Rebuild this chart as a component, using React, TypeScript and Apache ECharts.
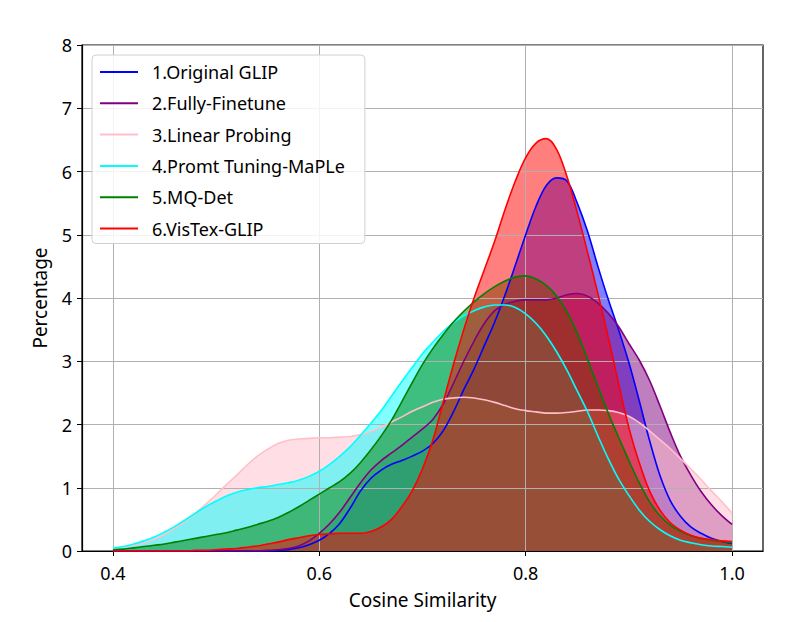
import React, { useEffect, useRef } from "react";
import * as echarts from "echarts";

// Cosine similarity sample positions (0.40 .. 1.00)
const xValues = [
  0.4, 0.41, 0.42, 0.43, 0.44, 0.45, 0.46, 0.47, 0.48, 0.49,
  0.5, 0.51, 0.52, 0.53, 0.54, 0.55, 0.56, 0.57, 0.58, 0.59,
  0.6, 0.61, 0.62, 0.63, 0.64, 0.65, 0.66, 0.67, 0.68, 0.69,
  0.7, 0.71, 0.72, 0.73, 0.74, 0.75, 0.76, 0.77, 0.78, 0.79,
  0.8, 0.81, 0.82, 0.83, 0.84, 0.85, 0.86, 0.87, 0.88, 0.89,
  0.9, 0.91, 0.92, 0.93, 0.94, 0.95, 0.96, 0.97, 0.98, 0.99,
  1.0,
];

const originalGlip = [
  0, 0, 0, 0, 0, 0, 0, 0, 0, 0,
  0, 0, 0, 0, 0, 0, 0.01, 0.02, 0.05, 0.1,
  0.17, 0.28, 0.44, 0.68, 0.95, 1.15, 1.28, 1.37, 1.43, 1.5,
  1.58, 1.7, 1.9, 2.2, 2.55, 2.88, 3.25, 3.62, 4.05, 4.52,
  5.0, 5.45, 5.78, 5.9, 5.85, 5.5, 5.05, 4.5, 3.98, 3.5,
  2.98, 2.38, 1.75, 1.2, 0.8, 0.55, 0.38, 0.28, 0.2, 0.15,
  0.12,
];
const fullyFinetune = [
  0, 0, 0, 0, 0, 0, 0, 0, 0, 0,
  0, 0, 0, 0, 0, 0.01, 0.02, 0.04, 0.08, 0.16,
  0.28, 0.43, 0.62, 0.85, 1.08, 1.28, 1.43, 1.55, 1.67, 1.8,
  1.93, 2.08, 2.32, 2.65, 3.0, 3.32, 3.6, 3.8, 3.9, 3.95,
  3.97, 3.97, 3.97, 4.0, 4.05, 4.07, 4.03, 3.92, 3.76, 3.55,
  3.28, 3.02, 2.7, 2.3, 1.88, 1.5, 1.2, 0.94, 0.73, 0.56,
  0.42,
];
const linearProbing = [
  0.04, 0.06, 0.09, 0.13, 0.18, 0.26, 0.36, 0.47, 0.6, 0.74,
  0.89, 1.05, 1.2, 1.36, 1.5, 1.61, 1.7, 1.75, 1.77, 1.78,
  1.79, 1.79, 1.8, 1.81, 1.84, 1.89, 1.96, 2.04, 2.12, 2.21,
  2.28, 2.35, 2.4, 2.42, 2.43, 2.42, 2.39, 2.35, 2.3, 2.25,
  2.22, 2.2, 2.18, 2.18, 2.19, 2.21, 2.23, 2.23, 2.22, 2.19,
  2.13, 2.03, 1.9, 1.76, 1.62, 1.46, 1.3, 1.13, 0.95, 0.78,
  0.6,
];
const promptTuning = [
  0.05, 0.07, 0.11, 0.16, 0.22, 0.3, 0.39, 0.49, 0.6, 0.7,
  0.79, 0.87, 0.93, 0.97, 1.0, 1.02, 1.05, 1.08, 1.12, 1.18,
  1.26, 1.37, 1.5, 1.65, 1.83, 2.02, 2.22, 2.45, 2.68, 2.9,
  3.12, 3.3, 3.47, 3.61, 3.72, 3.8, 3.86, 3.89, 3.89, 3.85,
  3.75, 3.6, 3.4, 3.15, 2.86, 2.53, 2.2, 1.82, 1.46, 1.14,
  0.88, 0.65, 0.47, 0.34, 0.24, 0.17, 0.13, 0.1, 0.08, 0.07,
  0.06,
];
const mqDet = [
  0.02, 0.03, 0.05, 0.07, 0.09, 0.11, 0.14, 0.17, 0.2, 0.23,
  0.26, 0.29, 0.33, 0.37, 0.42, 0.47, 0.53, 0.61, 0.7, 0.8,
  0.9, 1.0, 1.1, 1.23, 1.4, 1.6, 1.82, 2.07, 2.36, 2.66,
  2.95, 3.2, 3.42, 3.62, 3.79, 3.94, 4.07, 4.18, 4.27, 4.33,
  4.35, 4.3, 4.2, 4.03, 3.78, 3.44, 3.03, 2.6, 2.18, 1.8,
  1.43, 1.08, 0.78, 0.56, 0.41, 0.31, 0.24, 0.2, 0.17, 0.15,
  0.13,
];
const visTexGlip = [
  0, 0, 0, 0, 0, 0, 0, 0, 0.01, 0.01,
  0.02, 0.03, 0.04, 0.06, 0.08, 0.11, 0.14, 0.18, 0.21, 0.24,
  0.26, 0.27, 0.28, 0.28, 0.28, 0.31, 0.38, 0.5, 0.7, 0.95,
  1.3, 1.75, 2.35, 2.95, 3.5, 4.0, 4.45, 4.9, 5.4, 5.85,
  6.22, 6.45, 6.52, 6.35, 5.92, 5.35, 4.72, 4.07, 3.38, 2.65,
  1.95, 1.4, 0.95, 0.65, 0.45, 0.33, 0.25, 0.2, 0.18, 0.16,
  0.15,
];

const seriesNames = [
  "1.Original GLIP",
  "2.Fully-Finetune",
  "3.Linear Probing",
  "4.Promt Tuning-MaPLe",
  "5.MQ-Det",
  "6.VisTex-GLIP",
];
const seriesValues = [originalGlip, fullyFinetune, linearProbing, promptTuning, mqDet, visTexGlip];

const xTickValues = [0.4, 0.6, 0.8, 1.0];
const yTickLabels = ["0", "1", "2", "3", "4", "5", "6", "7", "8"];

const COLORS = ["#0000ff", "#800080", "#ffc0cb", "#00ffff", "#008000", "#ff0000"];

export default function App() {
  const ref = useRef<HTMLDivElement>(null);

  useEffect(() => {
    if (!ref.current) return;
    const chart = echarts.init(ref.current, undefined, { renderer: "svg" });
    const font = "'Noto Sans', 'Open Sans', sans-serif";
    const SMOOTH = 0.35;

    // fills (drawn first, below the grid lines)
    const areaSeries = seriesNames.map((name, i) => ({
      name,
      type: "line",
      data: xValues.map((x, j) => [x, seriesValues[i][j]]),
      smooth: SMOOTH,
      showSymbol: false,
      symbol: "none",
      color: COLORS[i],
      lineStyle: { width: 0, opacity: 0 },
      areaStyle: { color: COLORS[i], opacity: 0.5 },
      z: 1,
      silent: true,
    }));
    // outlines (drawn above everything)
    const lineSeries = seriesNames.map((name, i) => ({
      name,
      type: "line",
      data: xValues.map((x, j) => [x, seriesValues[i][j]]),
      smooth: SMOOTH,
      showSymbol: false,
      symbol: "none",
      color: COLORS[i],
      lineStyle: { color: COLORS[i], width: 1.6 },
      z: 4,
    }));

    chart.setOption({
      animation: false,
      textStyle: { fontFamily: font },
      grid: {
        left: 82,
        right: 23,
        top: 45,
        bottom: 71,
        show: true,
        borderColor: "#000",
        borderWidth: 1.2,
        backgroundColor: "transparent",
        containLabel: false,
        outerBoundsMode: "none",
      },
      legend: {
        orient: "vertical",
        left: 92,
        top: 55,
        z: 10,
        padding: [7, 20, 5, 8],
        itemGap: 11.3,
        itemWidth: 38,
        itemHeight: 2,
        icon: "rect",
        backgroundColor: "rgba(255,255,255,0.85)",
        borderColor: "#d0d0d0",
        borderWidth: 1,
        borderRadius: 4,
        textStyle: { fontSize: 18, color: "#000", lineHeight: 20, fontFamily: font, padding: [0, 0, 0, 9] },
        data: seriesNames,
      },
      xAxis: {
        type: "value",
        z: 2,
        min: 0.37,
        max: 1.03,
        splitNumber: 3,
        name: "Cosine Similarity",
        nameLocation: "middle",
        nameGap: 39,
        nameTextStyle: { fontSize: 19, color: "#000", fontFamily: font },
        axisLine: { show: true, lineStyle: { color: "#000", width: 1.2 } },
        axisTick: {
          show: true,
          length: 5,
          inside: false,
          customValues: xTickValues,
          lineStyle: { color: "#000", width: 1 },
        },
        axisLabel: {
          customValues: xTickValues,
          fontSize: 18,
          color: "#000",
          margin: 13,
          fontFamily: font,
          formatter: (v: number) => v.toFixed(1),
        },
        splitLine: { show: true, lineStyle: { color: "#b0b0b0", width: 1 } },
      },
      yAxis: {
        type: "value",
        z: 2,
        min: 0,
        max: 8,
        interval: 1,
        name: "Percentage",
        nameLocation: "middle",
        nameGap: 33,
        nameTextStyle: { fontSize: 19, color: "#000", fontFamily: font },
        axisLine: { show: true, lineStyle: { color: "#000", width: 1.2 } },
        axisTick: { show: true, length: 5, inside: false, lineStyle: { color: "#000", width: 1 } },
        axisLabel: {
          fontSize: 18,
          color: "#000",
          margin: 10,
          fontFamily: font,
          formatter: (v: number) => yTickLabels[Math.round(v)] ?? String(v),
        },
        splitLine: { show: true, lineStyle: { color: "#b0b0b0", width: 1 } },
      },
      series: [...areaSeries, ...lineSeries],
    });

    return () => chart.dispose();
  }, []);

  return (
    <div
      ref={ref}
      style={{ position: "fixed", left: 0, top: 0, width: 786, height: 622, background: "#fff" }}
    />
  );
}
